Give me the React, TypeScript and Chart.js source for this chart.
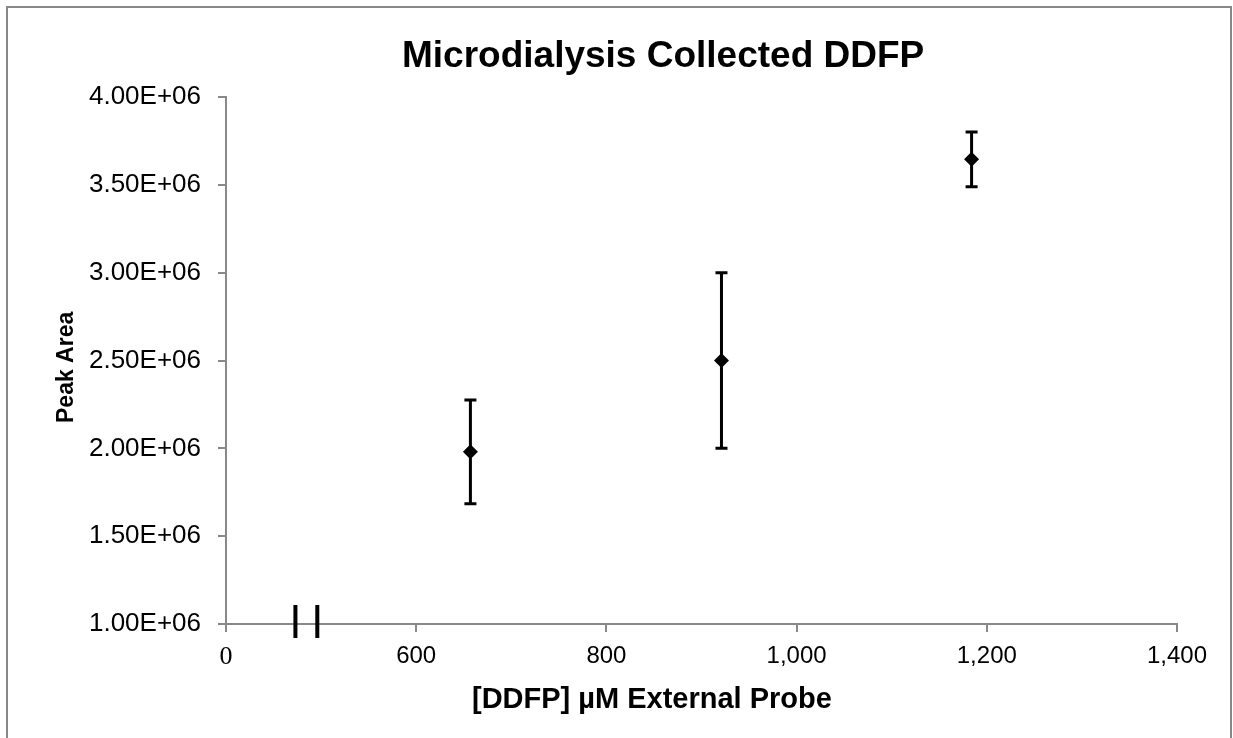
import React, { useEffect, useRef } from "react";
import { Chart, registerables } from "chart.js";

Chart.register(...registerables);

// ---- data ----
const concentrations = [657, 921, 1184];
const peakAreas = [1.98e6, 2.5e6, 3.645e6];
const errorPlus = [0.295e6, 0.5e6, 0.156e6];
const errorMinus = [0.296e6, 0.5e6, 0.156e6];

const xTickValues = [400, 600, 800, 1000, 1200, 1400];
const xTickLabels = ["0", "600", "800", "1,000", "1,200", "1,400"];
const yTickValues = [1e6, 1.5e6, 2e6, 2.5e6, 3e6, 3.5e6, 4e6];
const yTickLabels = ["1.00E+06", "1.50E+06", "2.00E+06", "2.50E+06", "3.00E+06", "3.50E+06", "4.00E+06"];
const axisBreakValues = [473, 496];

const chartTitle = "Microdialysis Collected DDFP";
const xAxisTitle = "[DDFP] \u00b5M External Probe";
const yAxisTitle = "Peak Area";

const SANS = "'Liberation Sans', Arial, sans-serif";
const SERIF = "'Liberation Serif', 'Times New Roman', serif";
const AXIS_GRAY = "#898989";

const decorPlugin = {
  id: "decor",
  afterDatasetsDraw(chart: any) {
    const ctx = chart.ctx;
    const xs = chart.scales.x;
    const ys = chart.scales.y;
    ctx.save();
    ctx.strokeStyle = "#000";
    ctx.lineWidth = 3;
    for (let i = 0; i < concentrations.length; i++) {
      const px = xs.getPixelForValue(concentrations[i]);
      const top = ys.getPixelForValue(peakAreas[i] + errorPlus[i]);
      const bot = ys.getPixelForValue(peakAreas[i] - errorMinus[i]);
      ctx.beginPath();
      ctx.moveTo(px, top);
      ctx.lineTo(px, bot);
      ctx.moveTo(px - 6, top);
      ctx.lineTo(px + 6, top);
      ctx.moveTo(px - 6, bot);
      ctx.lineTo(px + 6, bot);
      ctx.stroke();
    }
    ctx.restore();
  },
  afterDraw(chart: any) {
    const ctx = chart.ctx;
    const xs = chart.scales.x;
    const area = chart.chartArea;
    ctx.save();
    // outer border
    ctx.strokeStyle = AXIS_GRAY;
    ctx.lineWidth = 2;
    ctx.strokeRect(7, 7, 1224, 780);
    // axis break marks
    ctx.fillStyle = "#000";
    for (const v of axisBreakValues) {
      const px = xs.getPixelForValue(v);
      ctx.fillRect(px - 2, area.bottom - 19, 4, 33);
    }
    // titles
    ctx.fillStyle = "#000";
    ctx.textBaseline = "alphabetic";
    ctx.textAlign = "left";
    ctx.font = `bold 37px ${SANS}`;
    ctx.fillText(chartTitle, 402, 67);
    ctx.font = `bold 29px ${SANS}`;
    ctx.fillText(xAxisTitle, 472, 708);
    ctx.save();
    ctx.translate(73, 423);
    ctx.rotate(-Math.PI / 2);
    ctx.font = `bold 23px ${SANS}`;
    ctx.fillText(yAxisTitle, 0, 0);
    ctx.restore();
    ctx.restore();
  },
};

export default function App() {
  const canvasRef = useRef<HTMLCanvasElement | null>(null);

  useEffect(() => {
    const canvas = canvasRef.current;
    if (!canvas) return;
    const chart = new Chart(canvas, {
      type: "scatter",
      data: {
        datasets: [
          {
            data: concentrations.map((x, i) => ({ x, y: peakAreas[i] })),
            pointStyle: "rectRot",
            pointRadius: 7.5,
            pointHoverRadius: 7.5,
            backgroundColor: "#000",
            borderColor: "#000",
            borderWidth: 0,
          },
        ],
      },
      options: {
        responsive: false,
        animation: false,
        devicePixelRatio: 1,
        layout: { padding: { left: 0, top: 97, right: 56, bottom: 0 } },
        plugins: {
          legend: { display: false },
          tooltip: { enabled: false },
          title: { display: false },
        },
        scales: {
          x: {
            type: "linear",
            min: 400,
            max: 1400,
            afterBuildTicks: (s: any) => {
              s.ticks = xTickValues.map((v) => ({ value: v }));
            },
            afterFit: (s: any) => {
              s.height = 114;
            },
            ticks: {
              autoSkip: false,
              maxRotation: 0,
              padding: 10,
              color: "#000",
              callback: (v: any) => {
                const i = xTickValues.indexOf(Number(v));
                return i >= 0 ? xTickLabels[i] : "";
              },
              font: (c: any) =>
                c.tick && c.tick.value === 400
                  ? { family: SERIF, size: 26 }
                  : { family: SANS, size: 24 },
            },
            grid: {
              drawOnChartArea: false,
              drawTicks: true,
              tickLength: 8,
              color: AXIS_GRAY,
              lineWidth: 2,
            },
            border: { display: true, color: AXIS_GRAY, width: 2 },
          },
          y: {
            type: "linear",
            min: 1e6,
            max: 4e6,
            afterBuildTicks: (s: any) => {
              s.ticks = yTickValues.map((v) => ({ value: v }));
            },
            afterFit: (s: any) => {
              s.width = 226;
            },
            ticks: {
              autoSkip: false,
              padding: 17,
              color: "#000",
              font: { family: SANS, size: 26 },
              callback: (v: any) => {
                const i = yTickValues.indexOf(Number(v));
                return i >= 0 ? yTickLabels[i] : "";
              },
            },
            grid: {
              drawOnChartArea: false,
              drawTicks: true,
              tickLength: 8,
              color: AXIS_GRAY,
              lineWidth: 2,
            },
            border: { display: true, color: AXIS_GRAY, width: 2 },
          },
        },
      },
      plugins: [decorPlugin],
    });
    return () => chart.destroy();
  }, []);

  return (
    <div style={{ position: "fixed", left: 0, top: 0, width: 1233, height: 738, background: "#fff" }}>
      <canvas ref={canvasRef} width={1233} height={738} style={{ display: "block", width: 1233, height: 738 }} />
    </div>
  );
}
